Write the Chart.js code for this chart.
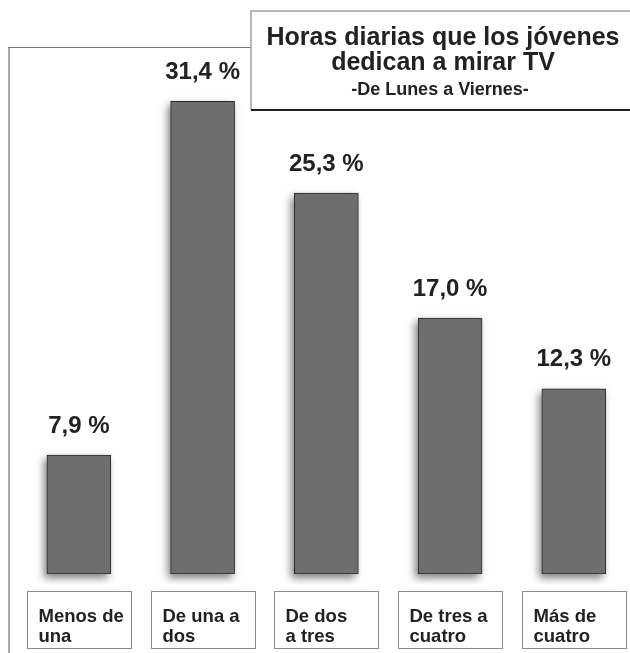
<!DOCTYPE html>
<html>
<head>
<meta charset="utf-8">
<script src="https://cdn.jsdelivr.net/npm/chart.js@4"></script>
<style>
  html, body { margin: 0; padding: 0; background: #ffffff; overflow: hidden; }
  #wrap { position: relative; width: 630px; height: 653px; }
</style>
</head>
<body>
<div id="wrap"><canvas id="c" width="630" height="653"></canvas></div>
<script>
// ---- data ----
const categories = [["Menos de", "una"], ["De una a", "dos"], ["De dos", "a tres"], ["De tres a", "cuatro"], ["Más de", "cuatro"]];
const values = [7.9, 31.4, 25.3, 17.0, 12.3];
const valueLabels = ["7,9 %", "31,4 %", "25,3 %", "17,0 %", "12,3 %"];
const titleLines = ["Horas diarias que los jóvenes", "dedican a mirar TV"];
const subtitleText = "-De Lunes a Viernes-";

const FONT = '"Liberation Sans", Arial, Helvetica, sans-serif';

const decor = {
  id: 'decor',
  beforeDraw(chart) {
    const ctx = chart.ctx;
    ctx.save();
    ctx.fillStyle = '#ffffff';
    ctx.fillRect(0, 0, chart.width, chart.height);
    // outer frame (left + top)
    ctx.strokeStyle = '#aaaaaa';
    ctx.lineWidth = 2;
    ctx.beginPath();
    ctx.moveTo(9, chart.height);
    ctx.lineTo(9, 47);
    ctx.stroke();
    ctx.strokeStyle = '#777777';
    ctx.lineWidth = 1;
    ctx.beginPath();
    ctx.moveTo(8, 47.5);
    ctx.lineTo(252, 47.5);
    ctx.stroke();
    ctx.restore();
  },
  beforeDatasetsDraw(chart) {
    // soft drop shadow behind each bar (to the left and below)
    const ctx = chart.ctx;
    const meta = chart.getDatasetMeta(0);
    ctx.save();
    meta.data.forEach((bar) => {
      const w = bar.width;
      const x0 = bar.x - w / 2, y0 = bar.y, h = bar.base - bar.y;
      ctx.shadowColor = 'rgba(0,0,0,0.5)';
      ctx.shadowBlur = 8;
      ctx.shadowOffsetX = -3 + 2000;
      ctx.shadowOffsetY = 4;
      ctx.fillStyle = '#000';
      ctx.fillRect(x0 - 2000, y0, w, h);
    });
    ctx.restore();
  },
  afterDraw(chart) {
    const ctx = chart.ctx;
    const meta = chart.getDatasetMeta(0);
    const xs = chart.scales.x;
    ctx.save();
    // value labels above bars
    ctx.fillStyle = '#222222';
    ctx.font = 'bold 24px ' + FONT;
    ctx.textAlign = 'center';
    ctx.textBaseline = 'middle';
    meta.data.forEach((bar, i) => {
      ctx.fillText(valueLabels[i], bar.x, bar.y - 29);
    });
    // category boxes
    categories.forEach((lines, i) => {
      const cx = xs.getPixelForValue(i);
      const left = Math.round(cx - 52) + 0.5;
      const top = 591.5, w = 104, h = 57;
      ctx.fillStyle = '#ffffff';
      ctx.fillRect(left, top, w, h);
      ctx.strokeStyle = '#8a8a8a';
      ctx.lineWidth = 1;
      ctx.strokeRect(left, top, w, h);
      ctx.fillStyle = '#222222';
      ctx.font = 'bold 18.5px ' + FONT;
      ctx.textAlign = 'left';
      ctx.textBaseline = 'alphabetic';
      lines.forEach((ln, j) => ctx.fillText(ln, left + 11, 622 + j * 20));
    });
    // title box
    ctx.fillStyle = '#ffffff';
    ctx.fillRect(251, 11, 379, 99);
    ctx.strokeStyle = '#a0a0a0';
    ctx.lineWidth = 1.5;
    ctx.beginPath();
    ctx.moveTo(251, 110);
    ctx.lineTo(251, 11);
    ctx.lineTo(630, 11);
    ctx.stroke();
    ctx.strokeStyle = '#1e1e1e';
    ctx.lineWidth = 2;
    ctx.beginPath();
    ctx.moveTo(251, 110);
    ctx.lineTo(630, 110);
    ctx.stroke();
    ctx.fillStyle = '#222222';
    ctx.textAlign = 'center';
    ctx.textBaseline = 'alphabetic';
    ctx.font = 'bold 25px ' + FONT;
    ctx.fillText(titleLines[0], 443, 45);
    ctx.fillText(titleLines[1], 443, 70);
    ctx.font = 'bold 18px ' + FONT;
    ctx.fillText(subtitleText, 440, 95);
    ctx.restore();
  }
};

const chartData = {
  datasets: [{
    data: values.map((v, i) => ({ x: i, y: v })),
    backgroundColor: '#6e6e6e',
    borderColor: '#2a2a2a',
    borderWidth: 1,
    borderSkipped: false,
    barThickness: 64
  }]
};

new Chart(document.getElementById('c'), {
  type: 'bar',
  data: chartData,
  options: {
    responsive: false,
    animation: false,
    devicePixelRatio: 1,
    layout: { padding: { top: 47, bottom: 79, left: 17, right: 0 } },
    plugins: { legend: { display: false }, tooltip: { enabled: false }, title: { display: false } },
    scales: {
      x: { type: 'linear', min: -0.5, max: 4.454, display: false, offset: false },
      y: { min: 0, max: 35, display: false }
    }
  },
  plugins: [decor]
});
</script>
</body>
</html>
